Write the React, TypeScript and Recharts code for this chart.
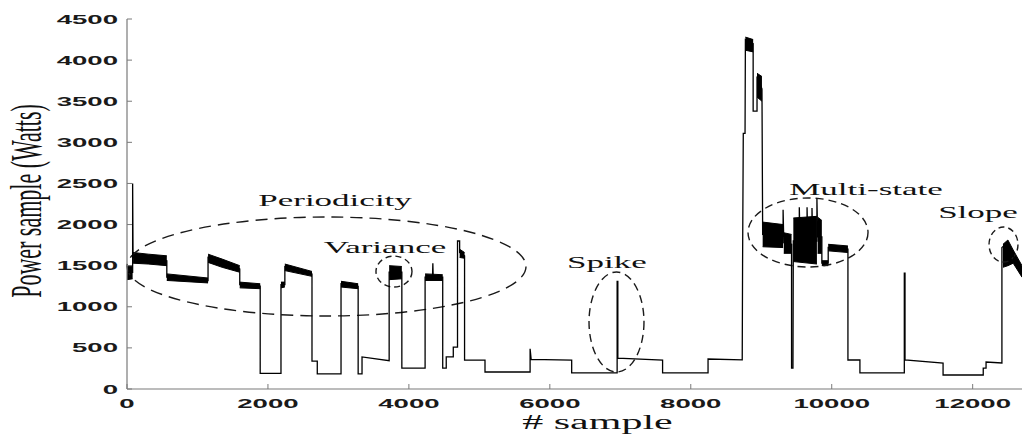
import React from 'react';
import { ComposedChart, Line, Area, XAxis, YAxis, ReferenceArea, ReferenceDot } from 'recharts';

// ---- data ----
const sampleIdx = [
  0, 80, 80, 86, 565, 565, 1150, 1150, 1600, 1600, 1890, 1890, 2185, 2185, 2240, 2240, 2625, 2625, 2700, 2700,
  3037, 3037, 3280, 3280, 3335, 3335, 3720, 3720, 3900, 3900, 4230, 4230, 4335, 4340, 4345, 4480, 4480, 4530, 4530, 4630,
  4630, 4690, 4690, 4720, 4720, 4790, 4790, 5080, 5080, 5720, 5720, 5735, 6310, 6310, 6955, 6955, 6965, 6965, 7600, 7600,
  8245, 8245, 8730, 8735, 8745, 8770, 8775, 8885, 8885, 8940, 8940, 9010, 9020, 9310, 9310, 9320, 9430, 9430, 9450, 9455,
  9540, 9540, 9550, 9650, 9650, 9660, 9720, 9720, 9730, 9790, 9790, 9800, 9860, 9860, 9950, 9950, 10230, 10230, 10400, 10400,
  11030, 11030, 11040, 11040, 11580, 11580, 12150, 12150, 12190, 12190, 12415, 12415, 12500, 12575, 12700,
];
const powerW = [
  1420, 1420, 2500, 1600, 1560, 1360, 1320, 1600, 1460, 1270, 1250, 190, 190, 1270, 1270, 1490, 1400, 340, 340, 185,
  185, 1280, 1250, 185, 185, 390, 345, 1420, 1420, 255, 255, 1360, 1360, 1530, 1360, 1360, 255, 255, 390, 390,
  510, 510, 1800, 1800, 1660, 1620, 350, 350, 207, 207, 490, 360, 350, 195, 195, 1310, 1310, 375, 350, 195,
  195, 365, 355, 1530, 3110, 3110, 4250, 4200, 3380, 3380, 3800, 3650, 1880, 1850, 2180, 1780, 1760, 255, 255, 1800,
  1800, 2210, 1800, 1800, 2210, 1800, 1800, 2200, 1800, 1800, 2310, 1850, 1850, 1530, 1530, 1720, 1700, 353, 353, 195,
  195, 1410, 1410, 353, 316, 170, 170, 255, 255, 328, 316, 1720, 1780, 1620, 1430,
];

// noisy (thick) stretches: [sample, low W, high W]
const bandStart: [number, number, number][] = [[0, 1330, 1500], [80, 1340, 1500]];
const bandFirstHigh: [number, number, number][] = [[86, 1530, 1660], [300, 1520, 1640], [565, 1500, 1620]];
const bandFirstLow: [number, number, number][] = [[565, 1320, 1400], [1150, 1290, 1350]];
const bandSecondHigh: [number, number, number][] = [[1150, 1540, 1640], [1350, 1480, 1580], [1600, 1420, 1500]];
const bandSecondLow: [number, number, number][] = [[1600, 1230, 1300], [1890, 1220, 1280]];
const bandThird: [number, number, number][] = [[2185, 1230, 1300], [2240, 1240, 1300]];
const bandFourth: [number, number, number][] = [[2240, 1440, 1520], [2625, 1370, 1430]];
const bandFifth: [number, number, number][] = [[3037, 1240, 1310], [3280, 1220, 1280]];
const bandVariance: [number, number, number][] = [[3720, 1330, 1500], [3900, 1340, 1490]];
const bandSixth: [number, number, number][] = [[4230, 1320, 1400], [4480, 1320, 1390]];
const bandSeventh: [number, number, number][] = [[4720, 1600, 1700], [4790, 1590, 1660]];
const bandPeak1: [number, number, number][] = [[8775, 4120, 4280], [8885, 4100, 4250]];
const bandPeak2: [number, number, number][] = [[8940, 3550, 3840], [9010, 3500, 3800]];
const bandMulti1: [number, number, number][] = [[9020, 1730, 2030], [9310, 1720, 2000]];
const bandMulti2: [number, number, number][] = [[9320, 1650, 1900], [9430, 1650, 1880]];
const bandMulti3: [number, number, number][] = [[9455, 1550, 2080], [9790, 1520, 2100]];
const bandMulti4: [number, number, number][] = [[9800, 1650, 2090], [9860, 1650, 2050]];
const bandMulti5: [number, number, number][] = [[9860, 1500, 1560], [9950, 1500, 1560]];
const bandMulti6: [number, number, number][] = [[9950, 1680, 1760], [10230, 1660, 1740]];
const bandSlope: [number, number, number][] = [[12430, 1480, 1760], [12500, 1500, 1812], [12575, 1530, 1690], [12700, 1360, 1500]];

const noiseBands = [
  bandStart, bandFirstHigh, bandFirstLow, bandSecondHigh, bandSecondLow, bandThird, bandFourth, bandFifth,
  bandVariance, bandSixth, bandSeventh, bandPeak1, bandPeak2, bandMulti1, bandMulti2, bandMulti3, bandMulti4,
  bandMulti5, bandMulti6, bandSlope,
];

const xTicks = [0, 2000, 4000, 6000, 8000, 10000, 12000];
const yTicks = [0, 500, 1000, 1500, 2000, 2500, 3000, 3500, 4000, 4500];

// annotations
const annText = ['Periodicity', 'Variance', 'Spike', 'Multi-state', 'Slope'];
const annX = [2952, 3661, 6811, 10486, 12076];
const annY = [2225, 1654, 1471, 2359, 2079];

// dashed ellipses (bounding boxes in data units)
const ellX1 = [0, 3533, 6556, 8812, 12232];
const ellX2 = [5662, 4044, 7336, 10515, 12643];
const ellY1 = [888, 1240, 207, 1484, 1544];
const ellY2 = [2092, 1617, 1423, 2323, 1970];
const ellDash = ['12 7', '6 4', '8 5', '8 5', '6 4'];

const traceData = sampleIdx.map((x, i) => ({ x, p: powerW[i] }));
const bandData = noiseBands.map((seg) => seg.map(([x, lo, hi]) => ({ x, r: [lo, hi] })));

const SANS = "'Liberation Sans', Arial, Helvetica, sans-serif";
const SERIF = "'Liberation Serif', 'Times New Roman', Times, serif";
const AXIS = '#7a7a7a';

const YTick = (props: any) => {
  const { x, y, payload } = props;
  return (
    <g>
      <line x1={x} x2={x + 5} y1={y} y2={y} stroke={AXIS} strokeWidth={1} />
      <text
        transform={`translate(${x - 9},${y + 4.5}) scale(2.3,1)`}
        textAnchor="end"
        fontFamily={SANS}
        fontWeight="bold"
        fontSize={12}
        fill="#1a1a1a"
      >
        {payload.value}
      </text>
    </g>
  );
};

const XTick = (props: any) => {
  const { x, y, payload } = props;
  return (
    <g>
      <line x1={x} x2={x} y1={y} y2={y - 5} stroke={AXIS} strokeWidth={1} />
      <text
        transform={`translate(${x},${y + 19}) scale(2.3,1)`}
        textAnchor="middle"
        fontFamily={SANS}
        fontWeight="bold"
        fontSize={12}
        fill="#1a1a1a"
      >
        {payload.value}
      </text>
    </g>
  );
};

const TopTick = (props: any) => {
  const { x, y } = props;
  return <line x1={x} x2={x} y1={y} y2={y + 5} stroke={AXIS} strokeWidth={1} />;
};

const XLabel = (props: any) => {
  const vb = props.viewBox;
  const cx = vb.x + vb.width / 2 + 23;
  return (
    <text
      transform={`translate(${cx},${vb.y + 40}) scale(2.1,1)`}
      textAnchor="middle"
      fontFamily={SERIF}
      fontSize={20}
      fill="#111"
    >
      # sample
    </text>
  );
};

const YLabel = (props: any) => {
  const vb = props.viewBox;
  return (
    <text
      transform={`translate(41,${vb.y + vb.height / 2 - 3}) scale(2,1) rotate(-90)`}
      textAnchor="middle"
      fontFamily={SERIF}
      fontSize={22}
      fill="#111"
    >
      Power sample (Watts)
    </text>
  );
};

export default function App() {
  return (
    <div style={{ position: 'absolute', left: 0, top: 0, width: 1022, height: 435, background: '#fff' }}>
      <ComposedChart width={1022} height={435} margin={{ top: 19, right: 0, bottom: 0, left: 0 }}>
        <XAxis
          xAxisId="b"
          type="number"
          dataKey="x"
          domain={[0, 12700]}
          allowDataOverflow
          ticks={xTicks}
          height={46}
          tickSize={0}
          tickMargin={0}
          tickLine={false}
          axisLine={{ stroke: AXIS, strokeWidth: 1.2 }}
          tick={XTick}
          label={XLabel}
        />
        <XAxis
          xAxisId="t"
          orientation="top"
          type="number"
          dataKey="x"
          domain={[0, 12700]}
          allowDataOverflow
          ticks={xTicks}
          height={0}
          tickSize={0}
          tickMargin={0}
          tickLine={false}
          axisLine={{ stroke: AXIS, strokeWidth: 1.2 }}
          tick={TopTick}
        />
        <YAxis
          type="number"
          domain={[0, 4500]}
          ticks={yTicks}
          width={127}
          tickSize={0}
          tickMargin={0}
          tickLine={false}
          axisLine={{ stroke: AXIS, strokeWidth: 1.2 }}
          tick={YTick}
          label={YLabel}
        />
        {bandData.map((seg, i) => (
          <Area
            key={`band-${i}`}
            xAxisId="b"
            data={seg}
            dataKey="r"
            type="linear"
            stroke="#000"
            strokeWidth={1}
            fill="#000"
            fillOpacity={1}
            isAnimationActive={false}
            dot={false}
            activeDot={false}
          />
        ))}
        <Line
          xAxisId="b"
          data={traceData}
          dataKey="p"
          type="linear"
          stroke="#000"
          strokeWidth={1.3}
          dot={false}
          activeDot={false}
          isAnimationActive={false}
        />
        {ellX1.map((x1, i) => (
          <ReferenceArea
            key={`ell-${i}`}
            xAxisId="b"
            x1={x1}
            x2={ellX2[i]}
            y1={ellY1[i]}
            y2={ellY2[i]}
            ifOverflow="visible"
            shape={(p: any) => (
              <ellipse
                cx={p.x + p.width / 2}
                cy={p.y + p.height / 2}
                rx={Math.abs(p.width) / 2}
                ry={Math.abs(p.height) / 2}
                fill="none"
                stroke="#1a1a1a"
                strokeWidth={1.4}
                strokeDasharray={ellDash[i]}
              />
            )}
          />
        ))}
        {annText.map((t, i) => (
          <ReferenceDot
            key={`ann-${i}`}
            xAxisId="b"
            x={annX[i]}
            y={annY[i]}
            r={0}
            ifOverflow="visible"
            shape={(p: any) => (
              <text
                transform={`translate(${p.cx},${p.cy}) scale(2.06,1)`}
                textAnchor="middle"
                fontFamily={SERIF}
                fontSize={17}
                fill="#111"
              >
                {t}
              </text>
            )}
          />
        ))}
      </ComposedChart>
    </div>
  );
}
